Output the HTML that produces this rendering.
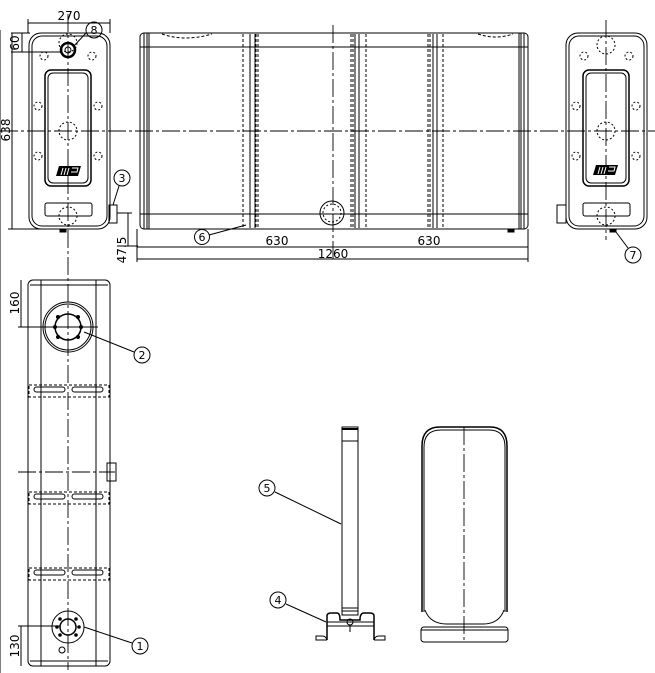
<!DOCTYPE html>
<html><head><meta charset="utf-8"><style>
html,body{margin:0;padding:0;background:#fff}
svg{display:block}
text{font-family:"DejaVu Sans","Liberation Sans",sans-serif;font-size:12px;font-weight:normal;fill:#000;stroke:none}
.b{font-size:11px}
</style></head><body>
<svg width="655" height="673" viewBox="0 0 655 673" xmlns="http://www.w3.org/2000/svg" fill="none" stroke="#000" stroke-width="1">
<!-- centerlines -->
<g stroke-dasharray="18,3,3,3" stroke-width="0.9">
<line x1="0" y1="131" x2="655" y2="131"/>
<line x1="68" y1="14" x2="68" y2="670"/>
<line x1="606" y1="20" x2="606" y2="240"/>
<line x1="333" y1="25" x2="333" y2="262"/>
<line x1="18" y1="472" x2="115" y2="472"/>
<line x1="464" y1="427" x2="464" y2="642"/>
</g>
<line x1="0" y1="30" x2="0" y2="673" stroke-width="1"/>

<!-- LEFT FRONT VIEW -->
<rect x="29" y="33" width="81" height="196" rx="12"/>
<rect x="32" y="36" width="75" height="190" rx="10"/>
<rect x="45" y="70" width="46" height="116" rx="6" stroke-width="1.5"/>
<rect x="48" y="73" width="40" height="110" rx="5"/>
<rect x="45" y="203" width="47" height="13" rx="2"/>
<g stroke-dasharray="2,2">
<circle cx="68" cy="131" r="9"/><circle cx="68" cy="216" r="9"/><circle cx="68" cy="43" r="9"/>
<circle cx="44" cy="56" r="4"/><circle cx="92" cy="56" r="4"/>
<circle cx="38" cy="106" r="4"/><circle cx="98" cy="106" r="4"/>
<circle cx="38" cy="156" r="4"/><circle cx="98" cy="156" r="4"/>
</g>
<circle cx="68" cy="50" r="7" stroke-width="2.5"/><circle cx="68" cy="50" r="3"/>
<g>
<polygon points="59,166 81,166 78,176 56,176" fill="#000" stroke="none"/>
<line x1="63" y1="168" x2="61" y2="175" stroke="#fff"/><line x1="66" y1="168" x2="64" y2="175" stroke="#fff"/><line x1="69" y1="168" x2="67" y2="175" stroke="#fff"/>
<path d="M72 168 H78 L77 172 H71" stroke="#fff"/>
</g>
<rect x="109" y="205" width="8" height="18"/>
<rect x="60" y="229" width="6" height="3" fill="#000"/>
<!-- dims left -->
<line x1="28" y1="23" x2="110" y2="23"/><line x1="28" y1="19" x2="28" y2="33"/><line x1="110" y1="19" x2="110" y2="33"/>
<text x="69" y="20" text-anchor="middle">270</text>
<line x1="11" y1="33" x2="30" y2="33"/><line x1="11" y1="52" x2="62" y2="52"/><line x1="22" y1="33" x2="22" y2="52"/>
<text transform="translate(19,43) rotate(-90)" text-anchor="middle">60</text>
<line x1="12" y1="33" x2="12" y2="229"/><line x1="8" y1="229" x2="60" y2="229"/>
<text transform="translate(10,130) rotate(-90)" text-anchor="middle">638</text>
<line x1="117" y1="213" x2="132" y2="213"/><line x1="117" y1="246" x2="138" y2="246"/><line x1="128" y1="213" x2="128" y2="246"/>
<text transform="translate(126,250) rotate(-90)" text-anchor="middle">47.5</text>
<circle cx="94" cy="30" r="8"/><text class="b" x="94" y="34" text-anchor="middle">8</text>
<line x1="86" y1="33" x2="73" y2="47"/>
<circle cx="122" cy="178" r="8"/><text class="b" x="122" y="182" text-anchor="middle">3</text>
<line x1="119" y1="186" x2="113" y2="205"/>

<!-- SIDE VIEW -->
<rect x="140" y="33" width="388" height="196" rx="4"/>
<line x1="144" y1="33" x2="144" y2="229"/><line x1="147" y1="33" x2="147" y2="229"/><line x1="149" y1="33" x2="149" y2="229"/>
<line x1="524" y1="33" x2="524" y2="229"/><line x1="521" y1="33" x2="521" y2="229"/><line x1="519" y1="33" x2="519" y2="229"/>
<line x1="140" y1="47" x2="528" y2="47"/><line x1="140" y1="214" x2="528" y2="214"/>
<g stroke-dasharray="3,2">
<line x1="243" y1="34" x2="243" y2="228"/><line x1="256" y1="34" x2="256" y2="228"/><line x1="258" y1="34" x2="258" y2="228"/>
<line x1="351" y1="34" x2="351" y2="228"/><line x1="353" y1="34" x2="353" y2="228"/><line x1="366" y1="34" x2="366" y2="228"/>
<line x1="428" y1="34" x2="428" y2="228"/><line x1="430" y1="34" x2="430" y2="228"/><line x1="443" y1="34" x2="443" y2="228"/>
<path d="M162 34 Q185 42 212 34"/><path d="M478 34 Q496 40 513 34"/>
</g>
<line x1="250" y1="34" x2="250" y2="228"/><line x1="255" y1="34" x2="255" y2="228"/>
<line x1="355" y1="34" x2="355" y2="228"/><line x1="359" y1="34" x2="359" y2="228"/>
<line x1="433" y1="34" x2="433" y2="228"/><line x1="437" y1="34" x2="437" y2="228"/>
<circle cx="332" cy="213" r="12"/><circle cx="332" cy="213" r="9" stroke-dasharray="2,2"/>
<line x1="137" y1="247" x2="528" y2="247"/><line x1="137" y1="259" x2="528" y2="259"/>
<line x1="137" y1="229" x2="137" y2="262"/><line x1="528" y1="229" x2="528" y2="262"/>
<text x="277" y="245" text-anchor="middle">630</text><text x="429" y="245" text-anchor="middle">630</text>
<text x="333" y="258" text-anchor="middle">1260</text>
<circle cx="202" cy="237" r="7.5"/><text class="b" x="202" y="241" text-anchor="middle">6</text>
<line x1="209" y1="235" x2="246" y2="225"/>
<rect x="508" y="229" width="6" height="3" fill="#000"/>

<!-- RIGHT VIEW -->
<rect x="566" y="33" width="81" height="196" rx="12"/>
<rect x="569" y="36" width="75" height="190" rx="10"/>
<rect x="583" y="70" width="46" height="116" rx="6" stroke-width="1.5"/>
<rect x="586" y="73" width="40" height="110" rx="5"/>
<rect x="583" y="203" width="47" height="13" rx="2"/>
<g stroke-dasharray="2,2">
<circle cx="606" cy="131" r="9"/><circle cx="606" cy="216" r="9"/><circle cx="606" cy="45" r="9"/>
<circle cx="584" cy="56" r="4"/><circle cx="629" cy="56" r="4"/>
<circle cx="576" cy="106" r="4"/><circle cx="636" cy="106" r="4"/>
<circle cx="576" cy="156" r="4"/><circle cx="636" cy="156" r="4"/>
</g>
<g>
<polygon points="596,165 618,165 615,175 593,175" fill="#000" stroke="none"/>
<line x1="600" y1="167" x2="598" y2="174" stroke="#fff"/><line x1="603" y1="167" x2="601" y2="174" stroke="#fff"/><line x1="606" y1="167" x2="604" y2="174" stroke="#fff"/>
<path d="M609 167 H615 L614 171 H608" stroke="#fff"/>
</g>
<rect x="557" y="205" width="9" height="18"/>
<rect x="610" y="229" width="6" height="3" fill="#000"/>
<circle cx="633" cy="255" r="8"/><text class="b" x="633" y="259" text-anchor="middle">7</text>
<line x1="628" y1="248" x2="616" y2="232"/>

<!-- TOP VIEW -->
<rect x="28" y="280" width="82" height="386" rx="5"/>
<line x1="30" y1="285" x2="108" y2="285"/><line x1="30" y1="661" x2="108" y2="661"/>
<line x1="41" y1="280" x2="41" y2="666"/><line x1="96" y1="280" x2="96" y2="666"/>
<circle cx="68" cy="327" r="25"/><circle cx="68" cy="327" r="23"/><circle cx="68" cy="327" r="13" stroke-width="1.5"/>
<g fill="#000" stroke="none">
<circle cx="58" cy="317" r="2"/><circle cx="78" cy="317" r="2"/><circle cx="58" cy="337" r="2"/><circle cx="78" cy="337" r="2"/>
<circle cx="55" cy="327" r="2"/><circle cx="81" cy="327" r="2"/>
<circle cx="60" cy="619" r="1.8"/><circle cx="76" cy="619" r="1.8"/><circle cx="60" cy="635" r="1.8"/><circle cx="76" cy="635" r="1.8"/>
<circle cx="57" cy="627" r="1.8"/><circle cx="79" cy="627" r="1.8"/>
</g>
<circle cx="68" cy="627" r="16"/><circle cx="68" cy="627" r="8" stroke-width="1.5"/>
<circle cx="62" cy="650" r="3"/>
<g>
<rect x="29" y="385" width="80" height="12" stroke-dasharray="3,2"/>
<rect x="34" y="387" width="31" height="5" rx="2.5"/><rect x="72" y="387" width="31" height="5" rx="2.5"/>
<rect x="29" y="492" width="80" height="12" stroke-dasharray="3,2"/>
<rect x="34" y="494" width="31" height="5" rx="2.5"/><rect x="72" y="494" width="31" height="5" rx="2.5"/>
<rect x="29" y="568" width="80" height="12" stroke-dasharray="3,2"/>
<rect x="34" y="570" width="31" height="5" rx="2.5"/><rect x="72" y="570" width="31" height="5" rx="2.5"/>
</g>
<rect x="107" y="463" width="9" height="18"/>
<line x1="21" y1="280" x2="21" y2="327"/><line x1="18" y1="327" x2="98" y2="327"/>
<text transform="translate(19,303) rotate(-90)" text-anchor="middle">160</text>
<line x1="21" y1="626" x2="21" y2="666"/><line x1="18" y1="626" x2="60" y2="626"/>
<text transform="translate(19,646) rotate(-90)" text-anchor="middle">130</text>
<circle cx="142" cy="355" r="8"/><text class="b" x="142" y="359" text-anchor="middle">2</text>
<line x1="134" y1="352" x2="84" y2="332"/>
<circle cx="140" cy="646" r="8"/><text class="b" x="140" y="650" text-anchor="middle">1</text>
<line x1="132" y1="643" x2="84" y2="627"/>

<!-- BOTTOM MIDDLE: pillar -->
<rect x="342" y="427" width="16" height="188"/>
<line x1="342" y1="429" x2="358" y2="429" stroke-width="2"/>
<line x1="342" y1="441" x2="358" y2="441"/>
<line x1="342" y1="608" x2="358" y2="608"/><line x1="342" y1="611" x2="358" y2="611"/>
<path d="M327 640 V616 Q327 613 331 613 H337 Q340 613 340 620 H360 Q360 613 364 613 H370 Q374 613 374 616 V640" stroke-width="1.5"/>
<line x1="327" y1="622" x2="374" y2="622"/><line x1="327" y1="626" x2="374" y2="626"/>
<path d="M327 640 Q326 636 322 636 H316 V640 H327"/><path d="M374 640 Q375 636 379 636 H385 V640 H374"/>
<circle cx="350" cy="622" r="3"/><line x1="350" y1="625" x2="350" y2="632"/>
<circle cx="267" cy="488" r="8"/><text class="b" x="267" y="492" text-anchor="middle">5</text>
<line x1="275" y1="492" x2="341" y2="524"/>
<circle cx="278" cy="600" r="8"/><text class="b" x="278" y="604" text-anchor="middle">4</text>
<line x1="286" y1="604" x2="326" y2="622"/>

<!-- BOTTOM RIGHT: front -->
<path d="M422 612 V446 Q422 427 440 427 H490 Q507 427 507 446 V612" stroke-width="1.5"/>
<path d="M424 612 V447 Q424 430 441 430 H489 Q505 430 505 447 V612"/>
<path d="M425 610 Q430 624 447 624 H483 Q499 624 504 610"/>
<rect x="421" y="627" width="87" height="15" rx="3"/>
<line x1="421" y1="630" x2="508" y2="630"/>
</svg>
</body></html>
